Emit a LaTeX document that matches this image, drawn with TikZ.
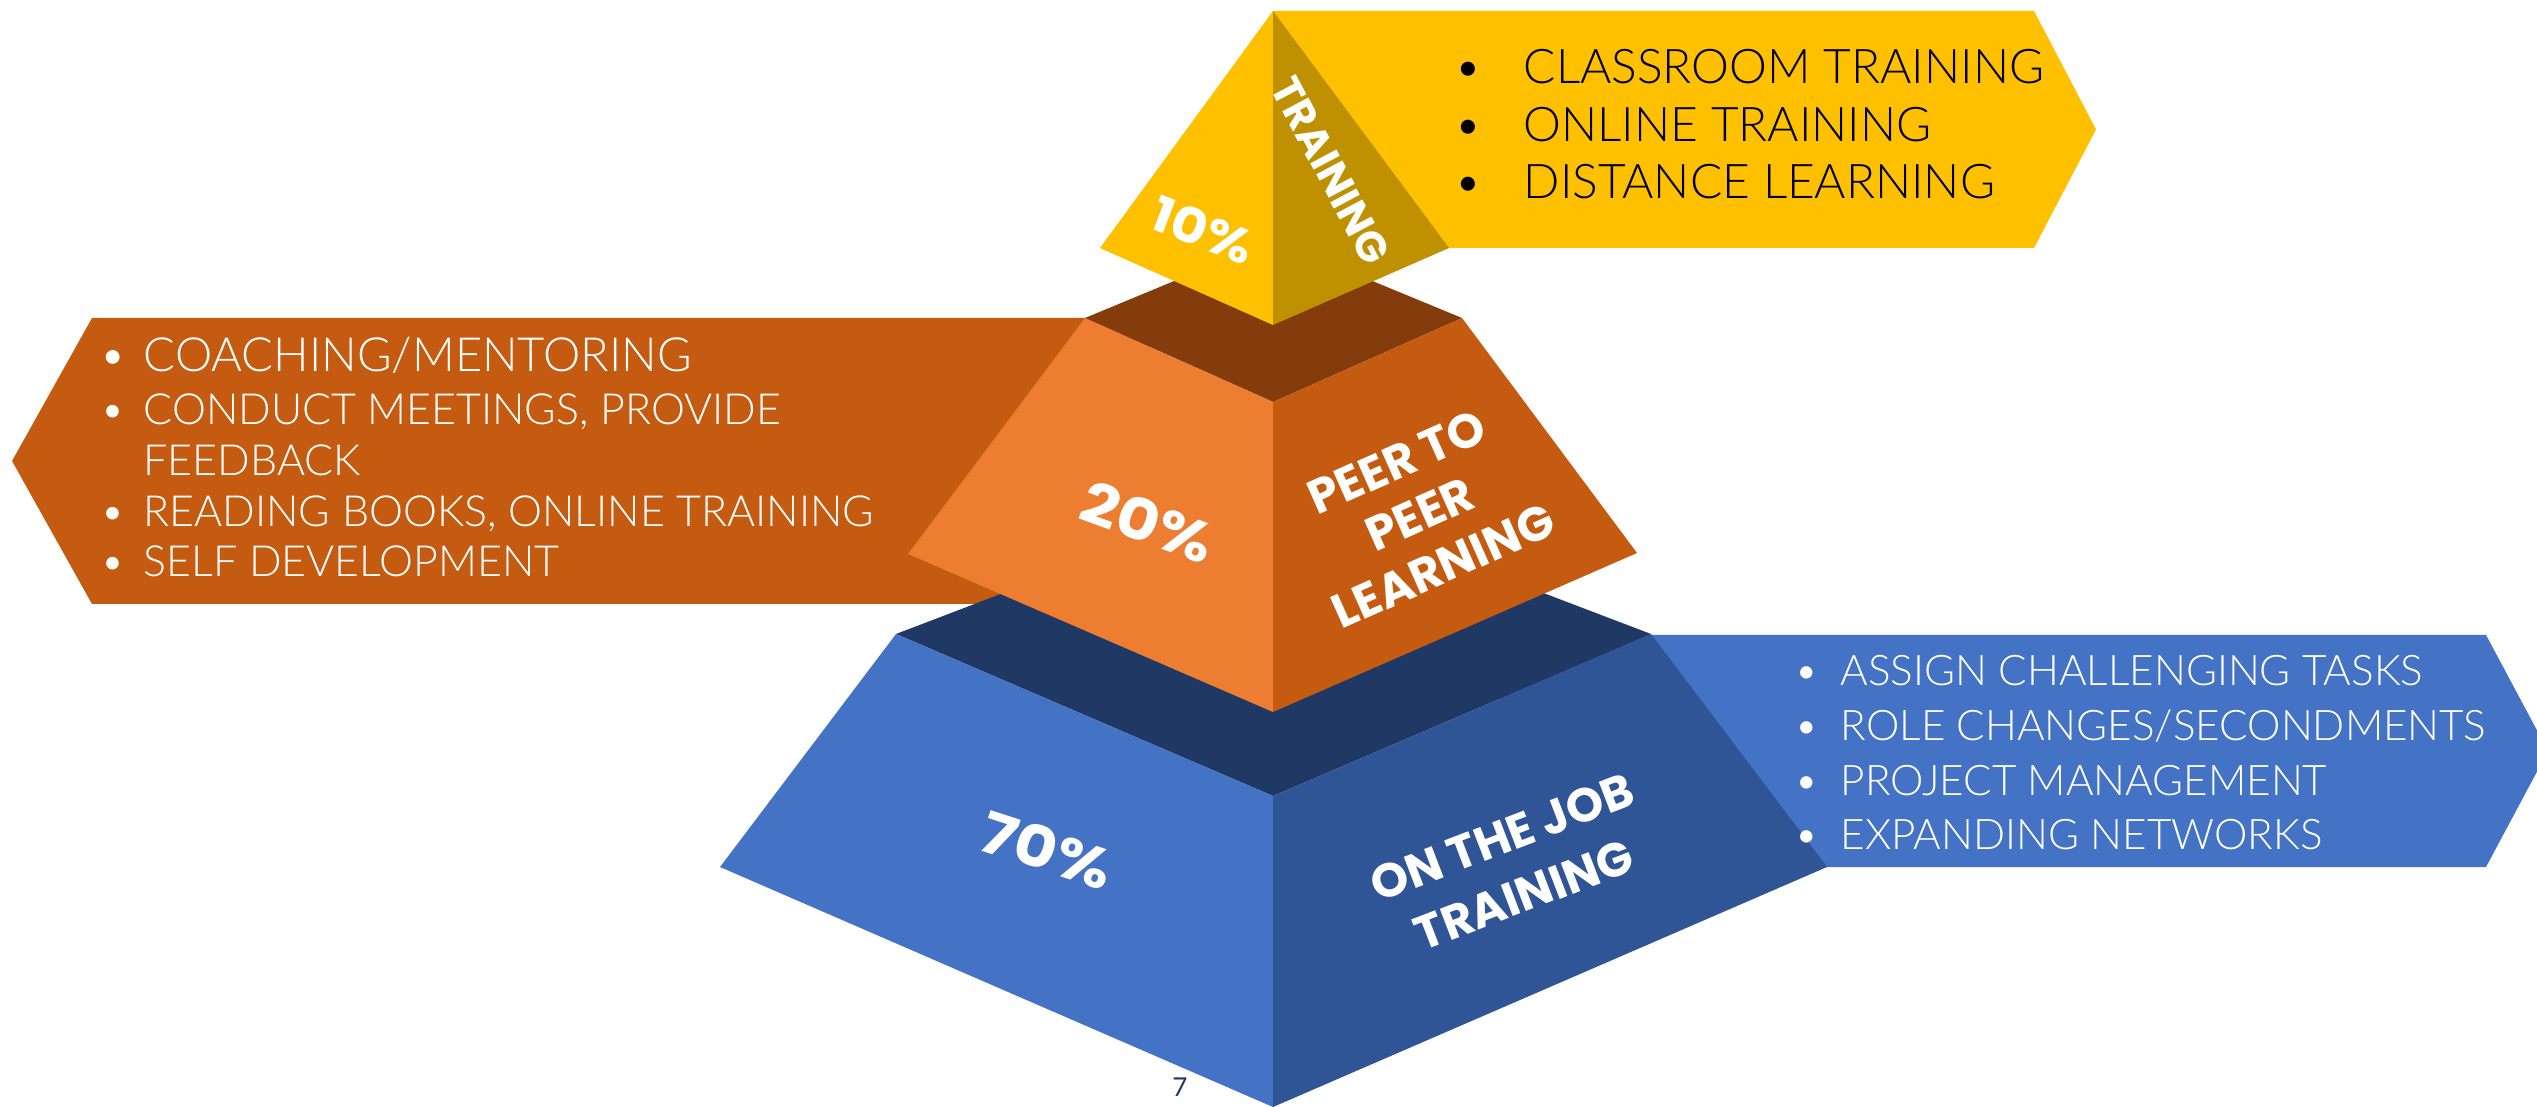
\documentclass[tikz,border=0pt]{standalone}
\usepackage{fontspec}
\setmainfont{Lato}
\newfontfamily\bannerfont{Lato Light}
\newfontfamily\labelfont{Poppins}
\newfontfamily\pctfont{Poppins}[FakeStretch=1.15]
\definecolor{ylw}{HTML}{FFC000}
\definecolor{ylwdark}{HTML}{BF9000}
\definecolor{brn}{HTML}{843C0C}
\definecolor{org}{HTML}{ED7D31}
\definecolor{orgdark}{HTML}{C55A11}
\definecolor{navy}{HTML}{203864}
\definecolor{blu}{HTML}{4472C4}
\definecolor{bludark}{HTML}{2F5597}
\begin{document}
\begin{tikzpicture}[x=0.01cm,y=-0.01cm,
  btxt/.style={anchor=base west, inner sep=0pt},
  bdot/.style={anchor=base, inner sep=0pt},
  lbl/.style={text=white, inner sep=0pt, align=center},
  ytext/.style={text=black, font=\bannerfont\fontsize{13.6}{16}\selectfont},
  otext/.style={text=white, font=\bannerfont\fontsize{12.2}{15}\selectfont},
  otextbig/.style={text=white, font=\bannerfont\fontsize{13.4}{16}\selectfont},
  btext/.style={text=white, font=\bannerfont\fontsize{12}{14}\selectfont}]
\useasboundingbox (0,0) rectangle (2537,1107);
\clip (0,0) rectangle (2537,1107);
% ---------- key points ----------
% top (yellow)
\coordinate (yA) at (1273,11);
\coordinate (yL) at (1100,248);
\coordinate (yB) at (1273,325);
\coordinate (yR) at (1449,248);
% middle (orange)
\coordinate (mL) at (1085,318);
\coordinate (mF) at (1273,402);
\coordinate (mR) at (1462,318);
\coordinate (mK) at (1273,240);
\coordinate (mBL) at (908,554);
\coordinate (mBF) at (1273,712);
\coordinate (mBR) at (1637,553);
% bottom (blue)
\coordinate (bL) at (896,634);
\coordinate (bF) at (1273,796);
\coordinate (bR) at (1651,634);
\coordinate (bK) at (1273,490);
\coordinate (bBL) at (720,867);
\coordinate (bBF) at (1273,1107);
\coordinate (bBR) at (1827,867);
% banners
\coordinate (ob1) at (92,318);
\coordinate (ob2) at (12,461);
\coordinate (ob3) at (92,604);
\coordinate (ob4) at (1150,604);
\coordinate (ob5) at (1150,318);
\coordinate (yb1) at (2034,11);
\coordinate (yb2) at (2096,129.5);
\coordinate (yb3) at (2034,248);
\coordinate (yb4) at (1273,248);
\coordinate (bb1) at (2486,635);
\coordinate (bb2) at (2548,751);
\coordinate (bb3) at (2486,867);
\coordinate (bb4) at (1500,867);
\coordinate (bb5) at (1500,635);
% ---------- banners (behind) ----------
\fill[orgdark] (ob1) -- (ob2) -- (ob3) -- (ob4) -- (ob5) -- cycle;
\fill[blu] (bb5) -- (bb1) -- (bb2) -- (bb3) -- (bb4) -- cycle;
\fill[ylw] (yA) -- (yb1) -- (yb2) -- (yb3) -- (yb4) -- cycle;
% ---------- bottom layer ----------
\fill[navy] (bL) -- (bK) -- (bR) -- (bF) -- cycle;
\fill[blu] (bL) -- (bF) -- (bBF) -- (bBL) -- cycle;
\fill[bludark] (bR) -- (bF) -- (bBF) -- (bBR) -- cycle;
% ---------- middle layer ----------
\fill[brn] (mL) -- (mK) -- (mR) -- (mF) -- cycle;
\fill[org] (mL) -- (mF) -- (mBF) -- (mBL) -- cycle;
\fill[orgdark] (mR) -- (mF) -- (mBF) -- (mBR) -- cycle;
% ---------- top layer ----------
\fill[ylw] (yA) -- (yL) -- (yB) -- cycle;
\fill[ylwdark] (yA) -- (yB) -- (yR) -- cycle;
% ---------- pyramid labels ----------
\node[lbl, rotate=-21, font=\pctfont\bfseries\fontsize{13.8}{16}\selectfont] (l10) at (1203,230) {10\%};
\node[lbl, rotate=-62, font=\labelfont\bfseries\fontsize{12}{14}\selectfont] (ltr) at (1331,171) {TRAINING};
\node[lbl, rotate=-20, font=\pctfont\bfseries\fontsize{16.2}{18}\selectfont] (l20) at (1148,522) {20\%};
\node[lbl, rotate=24, font=\labelfont\bfseries\fontsize{13.6}{16.2}\selectfont] (lpeer) at (1420,514) {PEER TO\\PEER\\LEARNING};
\node[lbl, rotate=-18, font=\pctfont\bfseries\fontsize{16.2}{18}\selectfont] (l70) at (1047,850) {70\%};
\node[lbl, rotate=21, font=\labelfont\bfseries\fontsize{13.5}{17.5}\selectfont] (ljob) at (1513,866) {ON THE JOB\\TRAINING};
% ---------- yellow banner text ----------
\node[bdot, ytext] (yd1) at (1468,84) {•};
\node[bdot, ytext] (yd2) at (1468,142) {•};
\node[bdot, ytext] (yd3) at (1468,199) {•};
\node[btxt, ytext] (yt1) at (1523,84) {CLASSROOM TRAINING};
\node[btxt, ytext] (yt2) at (1523,142) {ONLINE TRAINING};
\node[btxt, ytext] (yt3) at (1523,199) {DISTANCE LEARNING};
% ---------- orange banner text ----------
\node[bdot, otextbig] (od1) at (113,372) {•};
\node[bdot, otext] (od2) at (113,425) {•};
\node[bdot, otext] (od3) at (113,527) {•};
\node[bdot, otext] (od4) at (113,577) {•};
\node[btxt, otextbig] (ot1) at (143,372) {COACHING/MENTORING};
\node[btxt, otext] (ot2) at (143,425) {CONDUCT MEETINGS, PROVIDE};
\node[btxt, otext] (ot2b) at (143,476) {FEEDBACK};
\node[btxt, otext] (ot3) at (143,527) {READING BOOKS, ONLINE TRAINING};
\node[btxt, otext] (ot4) at (143,577) {SELF DEVELOPMENT};
% ---------- blue banner text ----------
\node[bdot, btext] (bd1) at (1807,686) {•};
\node[bdot, btext] (bd2) at (1807,741) {•};
\node[bdot, btext] (bd3) at (1807,796) {•};
\node[bdot, btext] (bd4) at (1807,850) {•};
\node[btxt, btext] (bt1) at (1840,686) {ASSIGN CHALLENGING TASKS};
\node[btxt, btext] (bt2) at (1840,741) {ROLE CHANGES/SECONDMENTS};
\node[btxt, btext] (bt3) at (1840,796) {PROJECT MANAGEMENT};
\node[btxt, btext] (bt4) at (1840,850) {EXPANDING NETWORKS};
% ---------- page number ----------
\node[text=navy, inner sep=0pt, font=\fontsize{7.4}{9}\selectfont] (pg) at (1180,1087) {7};
\end{tikzpicture}
\end{document}
